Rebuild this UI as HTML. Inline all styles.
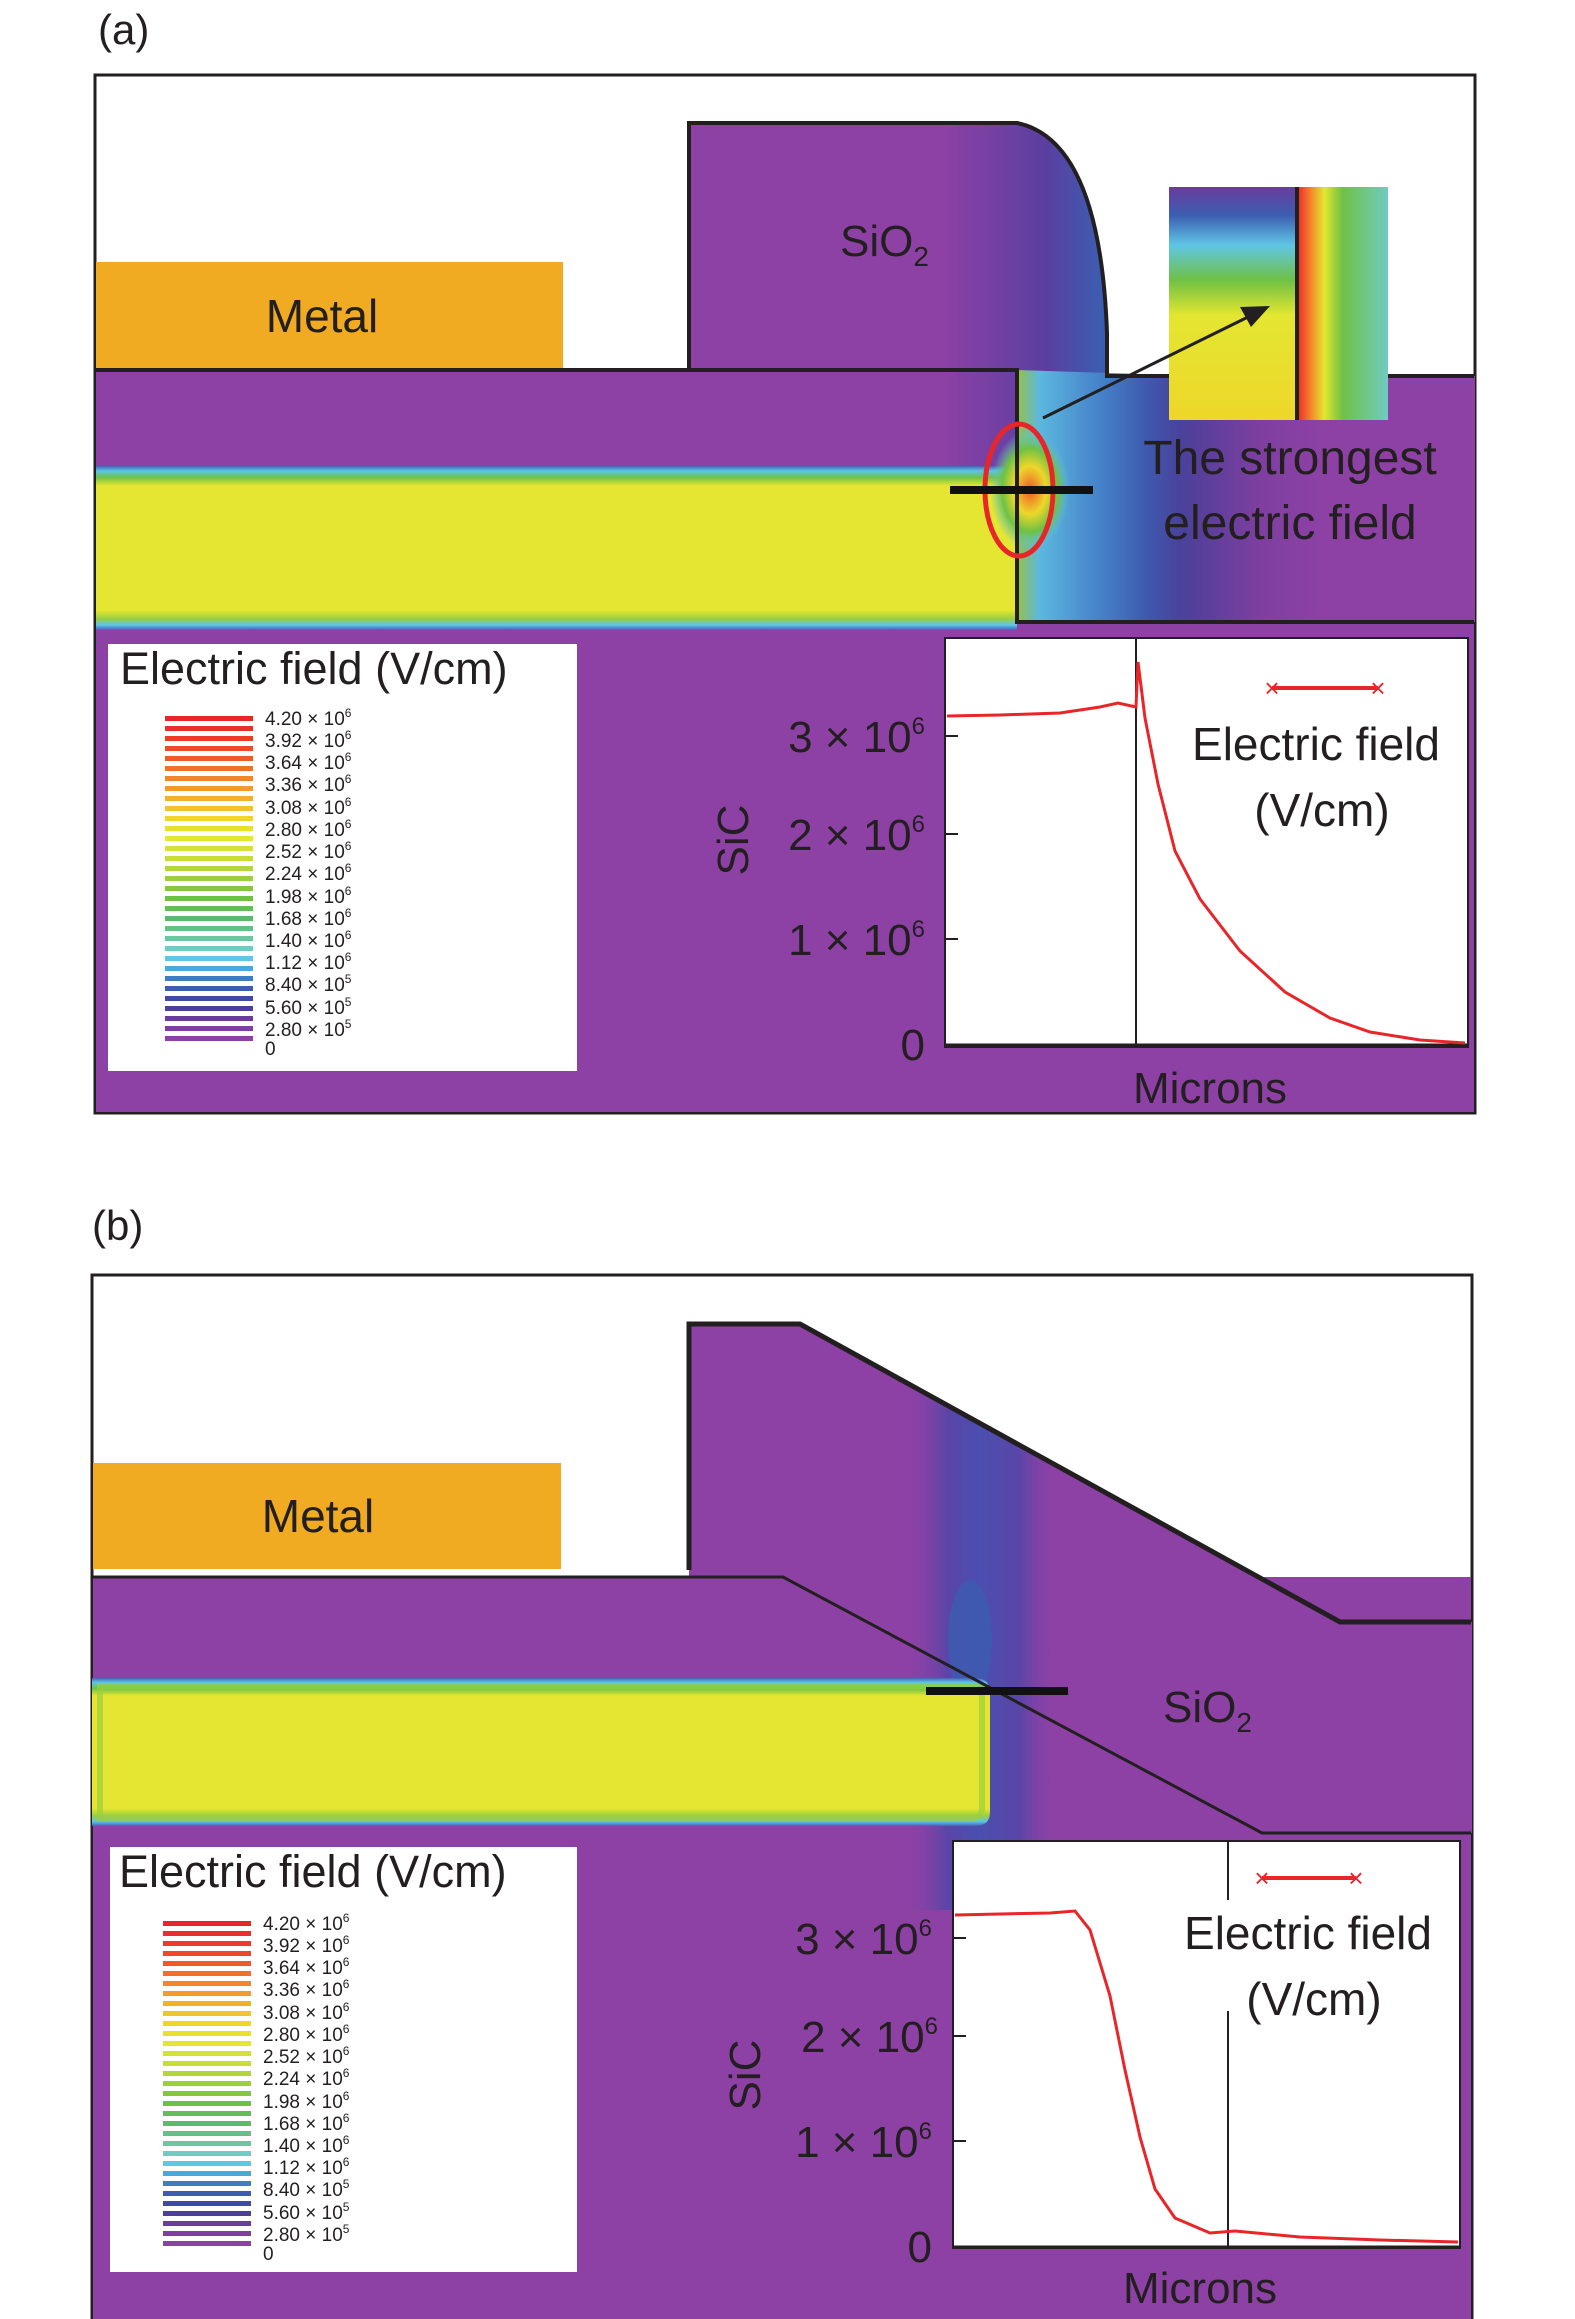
<!DOCTYPE html>
<html><head><meta charset="utf-8"><style>
html,body{margin:0;padding:0;background:#fff}
svg{display:block}
text{font-family:"Liberation Sans",sans-serif;fill:#231f20}
</style></head><body>
<svg width="1575" height="2319" viewBox="0 0 1575 2319" xmlns="http://www.w3.org/2000/svg">
<defs>
<linearGradient id="band" x1="0" y1="0" x2="0" y2="1">
<stop offset="0" stop-color="#4a5fb8"/><stop offset="0.03" stop-color="#5cc6e6"/><stop offset="0.07" stop-color="#6fc144"/><stop offset="0.12" stop-color="#e4e631"/><stop offset="0.88" stop-color="#e4e631"/><stop offset="0.93" stop-color="#9bcf3d"/><stop offset="0.97" stop-color="#5cc6e6"/><stop offset="1" stop-color="#4a5fb8"/>
</linearGradient>
<linearGradient id="fieldA" x1="940" y1="0" x2="1475" y2="0" gradientUnits="userSpaceOnUse">
<stop offset="0" stop-color="#8e41a5"/><stop offset="0.2" stop-color="#5a3fa0"/><stop offset="0.3" stop-color="#3c5db0"/><stop offset="0.45" stop-color="#4b3f99"/><stop offset="0.6" stop-color="#7e3fa0"/><stop offset="0.72" stop-color="#8e41a5"/><stop offset="1" stop-color="#8e41a5"/>
</linearGradient>
<linearGradient id="fieldA2" x1="0" y1="0" x2="1" y2="0">
<stop offset="0" stop-color="#9bcf3d"/><stop offset="0.12" stop-color="#5cc6e6"/><stop offset="0.4" stop-color="#4a8fd0"/><stop offset="0.7" stop-color="#3c5db0"/><stop offset="1" stop-color="#4b3f99" stop-opacity="0"/>
</linearGradient>
<linearGradient id="fieldB" x1="0" y1="0" x2="1" y2="0">
<stop offset="0" stop-color="#8e41a5" stop-opacity="0"/><stop offset="0.3" stop-color="#5a45a8"/><stop offset="0.5" stop-color="#4b4fb0"/><stop offset="0.75" stop-color="#5a45a8"/><stop offset="1" stop-color="#8e41a5" stop-opacity="0"/>
</linearGradient>
<linearGradient id="insetL" x1="0" y1="0" x2="0" y2="1">
<stop offset="0" stop-color="#6a3c9c"/><stop offset="0.12" stop-color="#3c5db0"/><stop offset="0.25" stop-color="#5fc6e6"/><stop offset="0.4" stop-color="#6fc144"/><stop offset="0.55" stop-color="#e4e631"/><stop offset="1" stop-color="#eed72a"/>
</linearGradient>
<linearGradient id="insetR" x1="0" y1="0" x2="1" y2="0">
<stop offset="0" stop-color="#e8262a"/><stop offset="0.15" stop-color="#f4852a"/><stop offset="0.3" stop-color="#e4e631"/><stop offset="0.5" stop-color="#6fc144"/><stop offset="1" stop-color="#70cbc3"/>
</linearGradient>
<radialGradient id="hot" cx="0.5" cy="0.5" r="0.5">
<stop offset="0" stop-color="#f05a28"/><stop offset="0.4" stop-color="#eed72a"/><stop offset="0.7" stop-color="#6fc144"/><stop offset="1" stop-color="#5cc6e6" stop-opacity="0"/>
</radialGradient>
<clipPath id="clipB">
<path d="M689 1577 L689 1324 L800 1324 L1340 1622 L1472 1622 L1472 2319 L93 2319 L93 1577 Z"/>
</clipPath>
</defs>

<!-- ===== Panel (a) ===== -->
<text x="98" y="44" font-size="42">(a)</text>
<rect x="95" y="75" width="1380" height="1038" fill="#fff" stroke="#231f20" stroke-width="3"/>
<rect x="96" y="376" width="1378" height="736" fill="#8e41a5"/>
<rect x="96" y="370" width="1011" height="8" fill="#8e41a5"/>
<path d="M689 123 L1017 123 Q1100 140 1107 333 L1107 376 L1017 376 L1017 370 L689 370 Z" fill="#8e41a5"/>
<path d="M940 123 L1017 123 Q1100 140 1107 333 L1107 376 L1475 376 L1475 622 L940 622 Z" fill="url(#fieldA)"/>
<path d="M1017 370 L1200 376 L1200 622 L1017 622 Z" fill="url(#fieldA2)" opacity="0.9"/>
<rect x="96" y="466" width="921" height="164" fill="url(#band)"/>
<ellipse cx="1030" cy="490" rx="40" ry="60" fill="url(#hot)"/>
<path d="M689 370 L689 123 L1017 123 Q1100 140 1107 333 L1107 376 L1474 376" fill="none" stroke="#231f20" stroke-width="4"/>
<path d="M96 370 L1017 370 L1017 622 L1474 622" fill="none" stroke="#231f20" stroke-width="4"/>
<rect x="96" y="262" width="467" height="106" fill="#f0ab23"/>
<text x="322" y="332" font-size="46" text-anchor="middle">Metal</text>
<text x="840" y="256" font-size="44">SiO<tspan font-size="28" dy="10">2</tspan></text>
<!-- inset -->
<rect x="1169" y="187" width="128" height="233" fill="url(#insetL)"/>
<rect x="1297" y="187" width="91" height="233" fill="url(#insetR)"/>
<line x1="1297" y1="187" x2="1297" y2="420" stroke="#231f20" stroke-width="4"/>
<line x1="1043" y1="418" x2="1250" y2="316" stroke="#231f20" stroke-width="3"/>
<polygon points="1270,306 1240,307 1251,327" fill="#231f20"/>
<ellipse cx="1019" cy="490" rx="34" ry="66" fill="none" stroke="#e8262a" stroke-width="5"/>
<line x1="950" y1="490" x2="1093" y2="490" stroke="#111" stroke-width="8"/>
<text x="1290" y="474" font-size="48" text-anchor="middle">The strongest</text>
<text x="1290" y="539" font-size="48" text-anchor="middle">electric field</text>
<!-- legend a -->
<rect x="108" y="644" width="469" height="427" fill="#fff"/>
<text x="120" y="684" font-size="45">Electric field (V/cm)</text>
<g id="bars">
<rect x="165" y="716" width="88" height="5" fill="#e8262a"/><rect x="165" y="726" width="88" height="5" fill="#ea2f2a"/>
<rect x="165" y="736" width="88" height="5" fill="#ec3b2b"/><rect x="165" y="746" width="88" height="5" fill="#ee4a29"/>
<rect x="165" y="756" width="88" height="5" fill="#f05a28"/><rect x="165" y="766" width="88" height="5" fill="#f27028"/>
<rect x="165" y="776" width="88" height="5" fill="#f4852a"/><rect x="165" y="786" width="88" height="5" fill="#f39a2a"/>
<rect x="165" y="796" width="88" height="5" fill="#f3b02a"/><rect x="165" y="806" width="88" height="5" fill="#f0c42a"/>
<rect x="165" y="816" width="88" height="5" fill="#eed72a"/><rect x="165" y="826" width="88" height="5" fill="#e9e02e"/>
<rect x="165" y="836" width="88" height="5" fill="#e4e631"/><rect x="165" y="846" width="88" height="5" fill="#d6e135"/>
<rect x="165" y="856" width="88" height="5" fill="#c9dd39"/><rect x="165" y="866" width="88" height="5" fill="#b2d63b"/>
<rect x="165" y="876" width="88" height="5" fill="#9bcf3d"/><rect x="165" y="886" width="88" height="5" fill="#85c840"/>
<rect x="165" y="896" width="88" height="5" fill="#6fc144"/><rect x="165" y="906" width="88" height="5" fill="#65bd59"/>
<rect x="165" y="916" width="88" height="5" fill="#5cba6e"/><rect x="165" y="926" width="88" height="5" fill="#64c087"/>
<rect x="165" y="936" width="88" height="5" fill="#6cc6a0"/><rect x="165" y="946" width="88" height="5" fill="#70cbc3"/>
<rect x="165" y="956" width="88" height="5" fill="#5fc6e6"/><rect x="165" y="966" width="88" height="5" fill="#4aa8dc"/>
<rect x="165" y="976" width="88" height="5" fill="#3f7cc4"/><rect x="165" y="986" width="88" height="5" fill="#3c5db0"/>
<rect x="165" y="996" width="88" height="5" fill="#3e4aa3"/><rect x="165" y="1006" width="88" height="5" fill="#4b3f99"/>
<rect x="165" y="1016" width="88" height="5" fill="#6a3c9c"/><rect x="165" y="1026" width="88" height="5" fill="#7e3fa0"/>
<rect x="165" y="1036" width="88" height="5" fill="#8e41a5"/>
</g>
<g font-size="19">
<text x="265" y="725">4.20 × 10<tspan font-size="12" dy="-8">6</tspan></text>
<text x="265" y="747">3.92 × 10<tspan font-size="12" dy="-8">6</tspan></text>
<text x="265" y="769">3.64 × 10<tspan font-size="12" dy="-8">6</tspan></text>
<text x="265" y="791">3.36 × 10<tspan font-size="12" dy="-8">6</tspan></text>
<text x="265" y="814">3.08 × 10<tspan font-size="12" dy="-8">6</tspan></text>
<text x="265" y="836">2.80 × 10<tspan font-size="12" dy="-8">6</tspan></text>
<text x="265" y="858">2.52 × 10<tspan font-size="12" dy="-8">6</tspan></text>
<text x="265" y="880">2.24 × 10<tspan font-size="12" dy="-8">6</tspan></text>
<text x="265" y="903">1.98 × 10<tspan font-size="12" dy="-8">6</tspan></text>
<text x="265" y="925">1.68 × 10<tspan font-size="12" dy="-8">6</tspan></text>
<text x="265" y="947">1.40 × 10<tspan font-size="12" dy="-8">6</tspan></text>
<text x="265" y="969">1.12 × 10<tspan font-size="12" dy="-8">6</tspan></text>
<text x="265" y="991">8.40 × 10<tspan font-size="12" dy="-8">5</tspan></text>
<text x="265" y="1014">5.60 × 10<tspan font-size="12" dy="-8">5</tspan></text>
<text x="265" y="1036">2.80 × 10<tspan font-size="12" dy="-8">5</tspan></text>
<text x="265" y="1055">0</text>
</g>
<!-- plot a -->
<rect x="945" y="638" width="523" height="409" fill="#fff" stroke="#231f20" stroke-width="2"/>
<line x1="945" y1="1045" x2="1468" y2="1045" stroke="#231f20" stroke-width="3"/>
<line x1="1136" y1="638" x2="1136" y2="1045" stroke="#231f20" stroke-width="2"/>
<g stroke="#231f20" stroke-width="2"><line x1="945" y1="736" x2="958" y2="736"/><line x1="945" y1="834" x2="958" y2="834"/><line x1="945" y1="939" x2="958" y2="939"/></g>
<g font-size="44" text-anchor="end">
<text x="925" y="752">3 × 10<tspan font-size="24" dy="-18">6</tspan></text>
<text x="925" y="850">2 × 10<tspan font-size="24" dy="-18">6</tspan></text>
<text x="925" y="955">1 × 10<tspan font-size="24" dy="-18">6</tspan></text>
<text x="925" y="1060">0</text>
</g>
<text transform="translate(748,840) rotate(-90)" font-size="44" text-anchor="middle">SiC</text>
<text x="1210" y="1103" font-size="44" text-anchor="middle">Microns</text>
<polyline points="947,716 1000,715 1060,713 1100,707 1118,703 1136,707 1138,662 1145,718 1158,784 1175,851 1200,899 1240,951 1285,992 1330,1018 1370,1032 1420,1040 1465,1043" fill="none" stroke="#e8262a" stroke-width="3"/>
<line x1="1272" y1="688" x2="1378" y2="688" stroke="#e8262a" stroke-width="4"/>
<text x="1272" y="697" font-size="26" style="fill:#e8262a" text-anchor="middle">×</text>
<text x="1378" y="697" font-size="26" style="fill:#e8262a" text-anchor="middle">×</text>
<text x="1316" y="760" font-size="46" text-anchor="middle">Electric field</text>
<text x="1322" y="826" font-size="46" text-anchor="middle">(V/cm)</text>

<!-- ===== Panel (b) ===== -->
<text x="92" y="1240" font-size="42">(b)</text>
<rect x="92" y="1275" width="1380" height="1046" fill="#fff" stroke="#231f20" stroke-width="3"/>
<rect x="93" y="1577" width="1378" height="742" fill="#8e41a5"/>
<path d="M689 1577 L689 1324 L800 1324 L1340 1622 L1472 1622 L1472 1833 L1262 1833 L783 1577 Z" fill="#8e41a5"/>
<g clip-path="url(#clipB)">
<rect x="900" y="1390" width="160" height="520" fill="url(#fieldB)"/>
<ellipse cx="970" cy="1640" rx="22" ry="60" fill="#3c5db0" opacity="0.8"/>
</g>
<path d="M92 1678 L975 1678 Q990 1678 990 1693 L990 1812 Q990 1826 975 1826 L92 1826 Z" fill="url(#band)"/>
<path d="M100 1686 L972 1686 Q982 1686 982 1696 L982 1808 Q982 1818 972 1818 L100 1818 Z" fill="none" stroke="#9bcf3d" stroke-width="6" opacity="0.7"/>
<path d="M689 1570 L689 1324 L800 1324 L1340 1622 L1471 1622" fill="none" stroke="#231f20" stroke-width="5"/>
<path d="M93 1577 L783 1577 L1262 1833 L1471 1833" fill="none" stroke="#231f20" stroke-width="3"/>
<rect x="93" y="1463" width="468" height="106" fill="#f0ab23"/>
<text x="318" y="1532" font-size="46" text-anchor="middle">Metal</text>
<line x1="926" y1="1691" x2="1068" y2="1691" stroke="#111" stroke-width="8"/>
<text x="1163" y="1722" font-size="44">SiO<tspan font-size="28" dy="10">2</tspan></text>
<!-- legend b -->
<rect x="110" y="1847" width="467" height="425" fill="#fff"/>
<text x="119" y="1887" font-size="45">Electric field (V/cm)</text>
<use href="#bars" transform="translate(-2,1205)"/>
<g font-size="19">
<text x="263" y="1930">4.20 × 10<tspan font-size="12" dy="-8">6</tspan></text>
<text x="263" y="1952">3.92 × 10<tspan font-size="12" dy="-8">6</tspan></text>
<text x="263" y="1974">3.64 × 10<tspan font-size="12" dy="-8">6</tspan></text>
<text x="263" y="1996">3.36 × 10<tspan font-size="12" dy="-8">6</tspan></text>
<text x="263" y="2019">3.08 × 10<tspan font-size="12" dy="-8">6</tspan></text>
<text x="263" y="2041">2.80 × 10<tspan font-size="12" dy="-8">6</tspan></text>
<text x="263" y="2063">2.52 × 10<tspan font-size="12" dy="-8">6</tspan></text>
<text x="263" y="2085">2.24 × 10<tspan font-size="12" dy="-8">6</tspan></text>
<text x="263" y="2108">1.98 × 10<tspan font-size="12" dy="-8">6</tspan></text>
<text x="263" y="2130">1.68 × 10<tspan font-size="12" dy="-8">6</tspan></text>
<text x="263" y="2152">1.40 × 10<tspan font-size="12" dy="-8">6</tspan></text>
<text x="263" y="2174">1.12 × 10<tspan font-size="12" dy="-8">6</tspan></text>
<text x="263" y="2196">8.40 × 10<tspan font-size="12" dy="-8">5</tspan></text>
<text x="263" y="2219">5.60 × 10<tspan font-size="12" dy="-8">5</tspan></text>
<text x="263" y="2241">2.80 × 10<tspan font-size="12" dy="-8">5</tspan></text>
<text x="263" y="2260">0</text>
</g>
<!-- plot b -->
<rect x="953" y="1841" width="507" height="407" fill="#fff" stroke="#231f20" stroke-width="2"/>
<line x1="953" y1="2247" x2="1460" y2="2247" stroke="#231f20" stroke-width="3"/>
<line x1="1228" y1="1841" x2="1228" y2="1900" stroke="#231f20" stroke-width="2"/>
<line x1="1228" y1="2011" x2="1228" y2="2247" stroke="#231f20" stroke-width="2"/>
<g stroke="#231f20" stroke-width="2"><line x1="953" y1="1938" x2="966" y2="1938"/><line x1="953" y1="2036" x2="966" y2="2036"/><line x1="953" y1="2141" x2="966" y2="2141"/></g>
<g font-size="44" text-anchor="end">
<text x="932" y="1954">3 × 10<tspan font-size="24" dy="-18">6</tspan></text>
<text x="938" y="2052">2 × 10<tspan font-size="24" dy="-18">6</tspan></text>
<text x="932" y="2157">1 × 10<tspan font-size="24" dy="-18">6</tspan></text>
<text x="932" y="2262">0</text>
</g>
<text transform="translate(760,2075) rotate(-90)" font-size="44" text-anchor="middle">SiC</text>
<text x="1200" y="2303" font-size="44" text-anchor="middle">Microns</text>
<polyline points="955,1915 1000,1914 1050,1913 1075,1911 1090,1930 1110,1996 1125,2070 1140,2137 1155,2189 1175,2218 1210,2233 1235,2231 1300,2237 1380,2240 1458,2242" fill="none" stroke="#e8262a" stroke-width="3"/>
<line x1="1262" y1="1878" x2="1356" y2="1878" stroke="#e8262a" stroke-width="4"/>
<text x="1262" y="1887" font-size="26" style="fill:#e8262a" text-anchor="middle">×</text>
<text x="1356" y="1887" font-size="26" style="fill:#e8262a" text-anchor="middle">×</text>
<text x="1308" y="1949" font-size="46" text-anchor="middle">Electric field</text>
<text x="1314" y="2015" font-size="46" text-anchor="middle">(V/cm)</text>
</svg>
</body></html>
